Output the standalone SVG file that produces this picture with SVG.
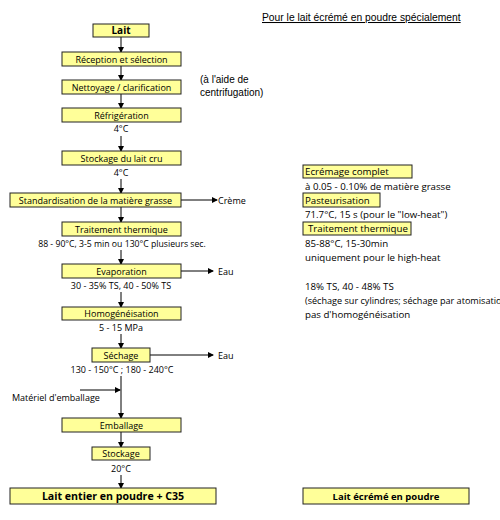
<svg xmlns="http://www.w3.org/2000/svg" width="500" height="520" viewBox="0 0 500 520">
<defs>
<marker id="ah" markerWidth="6" markerHeight="6" refX="5" refY="3" orient="auto" markerUnits="userSpaceOnUse">
<path d="M0,0 L6,3 L0,6 Z" fill="#000"/>
</marker>
<style>
.box{fill:#ffff99;stroke:#222;stroke-width:1}
.t{font-family:"Open Sans",sans-serif;font-size:9px;fill:#000;text-anchor:middle}
.l{font-family:"Open Sans",sans-serif;font-size:9px;fill:#000}
.r{font-family:"Open Sans",sans-serif;font-size:9.7px;fill:#000}
.a{font-family:"Liberation Sans",Arial,sans-serif;font-size:10px;fill:#000}
.b{font-family:"Open Sans",sans-serif;font-weight:bold;fill:#000;text-anchor:middle}
.c{stroke:#000;stroke-width:1;fill:none;marker-end:url(#ah)}
</style>
</defs>
<rect width="500" height="520" fill="#fff"/>

<g id="connectors">
<line class="c" x1="121" y1="37" x2="121" y2="52"/>
<line class="c" x1="121" y1="66" x2="121" y2="80"/>
<line class="c" x1="121" y1="94" x2="121" y2="108"/>
<line class="c" x1="121" y1="136" x2="121" y2="151"/>
<line class="c" x1="121" y1="179" x2="121" y2="193"/>
<line class="c" x1="181" y1="200" x2="217" y2="200"/>
<line class="c" x1="121" y1="207" x2="121" y2="222"/>
<line class="c" x1="121" y1="250" x2="121" y2="264"/>
<line class="c" x1="181" y1="271" x2="213" y2="271"/>
<line class="c" x1="121" y1="292" x2="121" y2="307"/>
<line class="c" x1="121" y1="334" x2="121" y2="348"/>
<line class="c" x1="150" y1="355" x2="213" y2="355"/>
<line class="c" x1="121" y1="376" x2="121" y2="418"/>
<line class="c" x1="80" y1="390" x2="120" y2="390"/>
<line class="c" x1="121" y1="432" x2="121" y2="447"/>
<line class="c" x1="121" y1="475" x2="121" y2="488"/>
</g>

<g id="lait"><rect class="box" x="93" y="24" width="56" height="13"/><text class="b" x="121" y="34" font-size="10">Lait</text></g>
<g id="reception"><rect class="box" x="62" y="52" width="119" height="14"/><text class="t" x="121.5" y="62.5">Réception et sélection</text></g>
<g id="nettoyage"><rect class="box" x="62" y="80" width="119" height="14"/><text class="t" x="121.5" y="90.5">Nettoyage / clarification</text></g>
<g id="refrigeration"><rect class="box" x="62" y="108" width="119" height="14"/><text class="t" x="121.5" y="118.5">Réfrigération</text><text class="t" x="121" y="132">4°C</text></g>
<g id="stockage-cru"><rect class="box" x="62" y="151" width="119" height="14"/><text class="t" x="121.5" y="161.5">Stockage du lait cru</text><text class="t" x="121" y="176">4°C</text></g>
<g id="standardisation"><rect class="box" x="10" y="193" width="171" height="14"/><text class="t" x="95.5" y="203.5">Standardisation de la matière grasse</text><text class="l" x="218" y="203.5">Crème</text></g>
<g id="traitement"><rect class="box" x="62" y="222" width="119" height="14"/><text class="t" x="121.5" y="232.5">Traitement thermique</text><text class="t" x="122" y="246.5" style="font-size:8.7px">88 - 90°C, 3-5 min ou 130°C plusieurs sec.</text></g>
<g id="evaporation"><rect class="box" x="62" y="264" width="119" height="14"/><text class="t" x="121.5" y="274.5">Evaporation</text><text class="l" x="218" y="274.5">Eau</text><text class="t" x="121" y="288.5">30 - 35% TS, 40 - 50% TS</text></g>
<g id="homogeneisation"><rect class="box" x="62" y="307" width="119" height="13"/><text class="t" x="121.5" y="317">Homogénéisation</text><text class="t" x="121" y="330.5">5 - 15 MPa</text></g>
<g id="sechage"><rect class="box" x="92" y="348" width="58" height="14"/><text class="t" x="121" y="358.5">Séchage</text><text class="l" x="218" y="358.5">Eau</text><text class="t" x="122" y="372.5">130 - 150°C ; 180 - 240°C</text></g>
<g id="materiel"><text class="l" x="12" y="401">Matériel d'emballage</text></g>
<g id="emballage"><rect class="box" x="62" y="418" width="119" height="14"/><text class="t" x="121.5" y="428.5">Emballage</text></g>
<g id="stockage"><rect class="box" x="92" y="447" width="58" height="13"/><text class="t" x="121" y="457">Stockage</text><text class="t" x="121" y="471.5">20°C</text></g>
<g id="lait-entier"><rect class="box" x="10" y="488" width="206" height="16"/><text class="b" x="113" y="500" font-size="10.6">Lait entier en poudre + C35</text></g>

<g id="note-centrifugation"><text class="a" x="200" y="83">(à l'aide de</text><text class="a" x="200" y="96">centrifugation)</text></g>

<g id="titre-ecreme"><text class="a" x="262" y="21" style="font-size:10.3px" text-decoration="underline">Pour le lait écrémé en poudre spécialement</text></g>
<g id="ecremage"><rect class="box" x="303" y="165" width="109" height="13"/><text class="r" x="305" y="175">Ecrémage complet</text><text class="r" x="305" y="189.5">à 0.05 - 0.10% de matière grasse</text></g>
<g id="pasteurisation"><rect class="box" x="303" y="193" width="77" height="14"/><text class="r" x="305" y="203.5">Pasteurisation</text><text class="r" x="305" y="217.5">71.7°C, 15 s (pour le "low-heat")</text></g>
<g id="traitement-ecreme"><rect class="box" x="303" y="222" width="108" height="13"/><text class="r" x="308" y="232">Traitement thermique</text><text class="r" x="305" y="246.5">85-88°C, 15-30min</text><text class="r" x="305" y="260.5">uniquement pour le high-heat</text></g>
<g id="notes-sechage"><text class="r" x="305" y="289.5">18% TS, 40 - 48% TS</text><text class="r" x="305" y="303.5" style="font-size:9.1px">(séchage sur cylindres; séchage par atomisation)</text><text class="r" x="305" y="317.5">pas d'homogénéisation</text></g>
<g id="lait-ecreme"><rect class="box" x="303" y="488" width="166" height="16"/><text class="b" x="386" y="500" font-size="9.5">Lait écrémé en poudre</text></g>
</svg>
